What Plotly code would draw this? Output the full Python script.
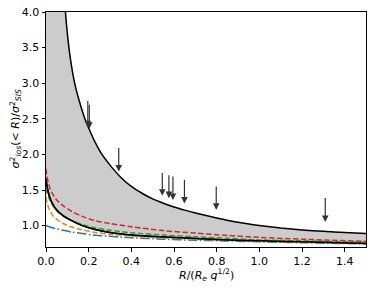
import plotly.graph_objects as go

# Upper bound curve (black, top of grey band)
upper_x = [0.0, 0.04, 0.06, 0.075, 0.09, 0.10, 0.115, 0.133, 0.155, 0.18, 0.20, 0.227, 0.26, 0.30, 0.35,
           0.40, 0.45, 0.50, 0.55, 0.60, 0.65, 0.70, 0.80, 0.90, 1.00, 1.10, 1.20, 1.30, 1.40, 1.50]
upper_y = [14.0, 8.5, 5.9, 4.8, 4.05, 3.7, 3.33, 3.02, 2.76, 2.52, 2.37, 2.19, 2.01, 1.85, 1.68,
           1.55, 1.455, 1.375, 1.315, 1.262, 1.218, 1.178, 1.108, 1.048, 1.002, 0.966, 0.94, 0.92, 0.904, 0.89]

# Common grid for the lower curves
grid_x = [0.0, 0.005, 0.015, 0.03, 0.05, 0.08, 0.12, 0.17, 0.23, 0.30, 0.40, 0.55, 0.70, 0.85, 1.00, 1.20, 1.50]
lower_black = [1.66, 1.55, 1.42, 1.31, 1.22, 1.14, 1.07, 1.00, 0.945, 0.905, 0.87, 0.84, 0.82, 0.80, 0.787, 0.772, 0.75]
red_dash = [1.80, 1.68, 1.56, 1.45, 1.36, 1.28, 1.20, 1.13, 1.07, 1.03, 0.985, 0.93, 0.895, 0.862, 0.835, 0.81, 0.778]
green_dash = [1.52, 1.46, 1.38, 1.29, 1.21, 1.135, 1.07, 1.015, 0.97, 0.935, 0.90, 0.868, 0.843, 0.822, 0.80, 0.785, 0.764]
orange_dash = [1.40, 1.32, 1.23, 1.15, 1.09, 1.03, 0.98, 0.94, 0.905, 0.88, 0.855, 0.828, 0.81, 0.795, 0.782, 0.77, 0.755]
blue_dashdot = [1.00, 0.995, 0.985, 0.97, 0.955, 0.935, 0.91, 0.89, 0.865, 0.85, 0.83, 0.81, 0.795, 0.785, 0.773, 0.76, 0.745]

# Arrows (x position, tail y, tip y)
arrow_x = [0.196, 0.203, 0.341, 0.545, 0.576, 0.595, 0.649, 0.798, 1.309]
arrow_top = [2.77, 2.72, 2.11, 1.76, 1.73, 1.71, 1.665, 1.57, 1.41]
arrow_tip = [2.38, 2.36, 1.76, 1.42, 1.385, 1.36, 1.31, 1.22, 1.05]

x_ticks = [0.0, 0.2, 0.4, 0.6, 0.8, 1.0, 1.2, 1.4]
y_ticks = [1.0, 1.5, 2.0, 2.5, 3.0, 3.5, 4.0]

x_title = "<i>R</i>/(<i>R</i><sub><i>e</i></sub> <i>q</i><sup>1/2</sup>)"
y_title = "<i>σ</i><sup>2</sup><sub><i>los</i></sub>(< <i>R</i>)/<i>σ</i><sup>2</sup><sub><i>SIS</i></sub>"

FONT = "DejaVu Sans"
W, H = 373, 288
ML, MR, MT, MB = 46, 7, 12, 41

fig = go.Figure()

# grey band
fig.add_trace(go.Scatter(x=grid_x, y=lower_black, mode="lines",
                         line=dict(color="black", width=1.5, shape="spline", smoothing=0.8),
                         showlegend=False, hoverinfo="skip"))
fig.add_trace(go.Scatter(x=upper_x, y=upper_y, mode="lines", fill="tonexty",
                         fillcolor="#cccccc",
                         line=dict(color="black", width=1.5, shape="spline", smoothing=0.5),
                         showlegend=False, hoverinfo="skip"))

dash = "5.5px,2.4px"
dashdot = "9.6px,2.4px,1.5px,2.4px"
fig.add_trace(go.Scatter(x=grid_x, y=blue_dashdot, mode="lines",
                         line=dict(color="#1f77b4", width=1.5, dash=dashdot, shape="spline", smoothing=0.8),
                         showlegend=False))
fig.add_trace(go.Scatter(x=grid_x, y=orange_dash, mode="lines",
                         line=dict(color="#ff7f0e", width=1.5, dash=dash, shape="spline", smoothing=0.8),
                         showlegend=False))
fig.add_trace(go.Scatter(x=grid_x, y=green_dash, mode="lines",
                         line=dict(color="#2ca02c", width=1.5, dash=dash, shape="spline", smoothing=0.8),
                         showlegend=False))
fig.add_trace(go.Scatter(x=grid_x, y=red_dash, mode="lines",
                         line=dict(color="#d62728", width=1.5, dash=dash, shape="spline", smoothing=0.8),
                         showlegend=False))
fig.add_trace(go.Scatter(x=grid_x, y=lower_black, mode="lines",
                         line=dict(color="black", width=1.5, shape="spline", smoothing=0.8),
                         showlegend=False, hoverinfo="skip"))

for xa, yt, yh in zip(arrow_x, arrow_top, arrow_tip):
    fig.add_annotation(x=xa, y=yh, ax=xa, ay=yt, xref="x", yref="y", axref="x", ayref="y",
                       showarrow=True, arrowhead=2, arrowsize=1.1, arrowwidth=1.2,
                       arrowcolor="#333333", text="")

# axis titles as annotations for precise placement
fig.add_annotation(text=x_title, xref="paper", yref="paper", x=0.5, y=(-(275 - (H - MB)) / (H - MT - MB)),
                   showarrow=False, xanchor="center", yanchor="middle",
                   font=dict(family=FONT, size=11, color="black"))
fig.add_annotation(text=y_title, xref="paper", yref="paper", x=-(ML - 15) / (W - ML - MR), y=0.5,
                   showarrow=False, xanchor="center", yanchor="middle", textangle=-90,
                   font=dict(family=FONT, size=11, color="black"))

axis_common = dict(showline=True, linecolor="black", linewidth=1, mirror=True,
                   ticks="outside", ticklen=3.5, tickwidth=1, tickcolor="black",
                   showgrid=False, zeroline=False, automargin=False,
                   tickfont=dict(family=FONT, size=11, color="black"))

fig.update_xaxes(range=[0, 1.5], tickvals=x_ticks, ticktext=[f"{v:.1f}" for v in x_ticks],
                 **axis_common)
fig.update_yaxes(range=[0.7, 4.0], tickvals=y_ticks, ticktext=[f"{v:.1f}" for v in y_ticks],
                 **axis_common)

fig.update_layout(width=W, height=H, autosize=False,
                  margin=dict(l=ML, r=MR, t=MT, b=MB),
                  plot_bgcolor="white", paper_bgcolor="white",
                  font=dict(family=FONT, size=11, color="black"))

fig.write_html("out.html", config={"responsive": False, "displayModeBar": False},
               post_script="document.body.style.margin='0px';document.body.style.overflow='hidden';")
